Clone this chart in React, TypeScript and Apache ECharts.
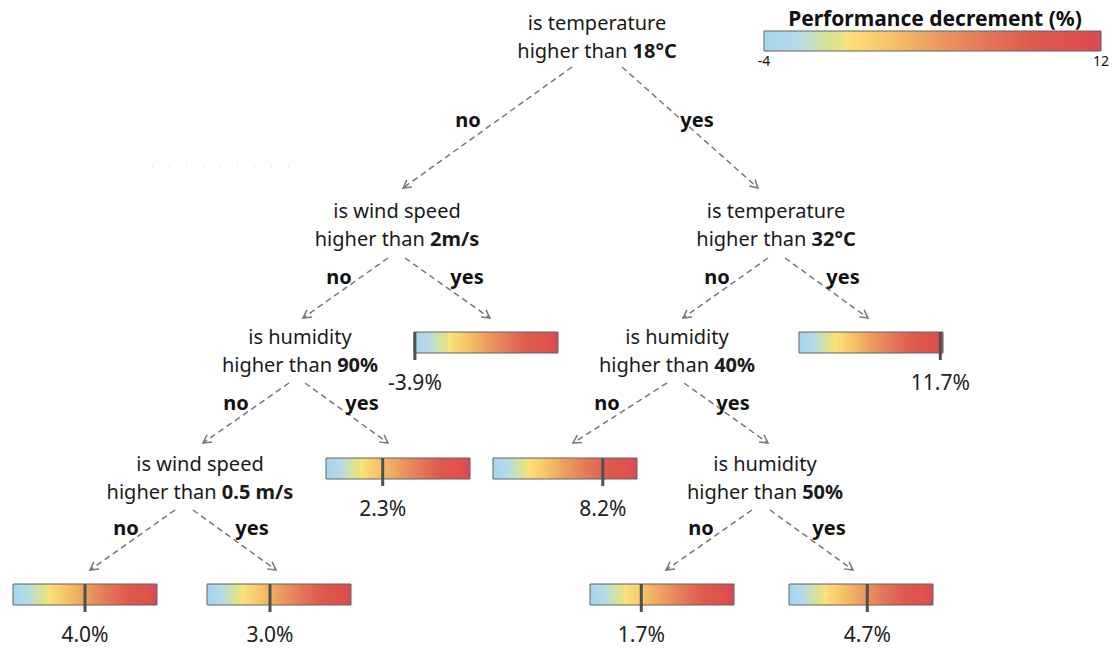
import React, { useEffect, useRef } from "react";
import * as echarts from "echarts";

// ---------- data ----------
const scaleMin = -4;
const scaleMax = 12;
const legendTitle = "Performance decrement (%)";
const legendTicks = [-4, 12];

const nodeQuestions = [
  "is temperature",
  "is wind speed",
  "is temperature",
  "is humidity",
  "is humidity",
  "is wind speed",
  "is humidity",
];
const nodeThresholds = ["18°C", "2m/s", "32°C", "90%", "40%", "0.5 m/s", "50%"];
const edgeLabels = ["no", "yes", "no", "yes", "no", "yes", "no", "yes", "no", "yes", "no", "yes", "no", "yes"];
const leafValues = [-3.9, 2.3, 4.0, 3.0, 11.7, 8.2, 1.7, 4.7];

// ---------- layout (positions only) ----------
const FONT = "'Noto Sans', sans-serif";
const nodePos = [
  [597, 22],
  [397, 210],
  [776, 210],
  [300, 336],
  [677, 336],
  [200, 463],
  [765, 463],
];
// [x1, y1, x2, y2, labelX, labelY]
const edgePos = [
  [572, 67, 403, 188, 468, 119],
  [622, 67, 758, 188, 697, 119],
  [388, 258, 303, 318, 339, 276],
  [405, 258, 490, 318, 467, 276],
  [289, 383, 203, 443, 236, 402],
  [305, 383, 388, 443, 362, 402],
  [175, 510, 90, 570, 126, 527],
  [193, 510, 276, 570, 252, 527],
  [768, 258, 683, 318, 717, 276],
  [785, 258, 868, 318, 843, 276],
  [667, 383, 573, 443, 607, 402],
  [684, 383, 768, 443, 733, 402],
  [752, 510, 666, 570, 701, 527],
  [770, 510, 853, 570, 829, 527],
];
const leafPos = [
  [414, 332],
  [326, 458],
  [13, 584],
  [207, 584],
  [799, 332],
  [493, 458],
  [590, 584],
  [789, 584],
];
const BAR_W = 144;
const BAR_H = 21;
const legendBox = { left: 764, top: 31, width: 338, height: 20 };

const gradStops = [
  { offset: 0, color: "#a6d5ef" },
  { offset: 0.1, color: "#b4dbe8" },
  { offset: 0.2, color: "#dce38f" },
  { offset: 0.235, color: "#e7e286" },
  { offset: 0.24, color: "#fde27a" },
  { offset: 0.36, color: "#f7c66a" },
  { offset: 0.5, color: "#ec9f60" },
  { offset: 0.65, color: "#e5785a" },
  { offset: 0.8, color: "#dc5a4e" },
  { offset: 0.94, color: "#e0504a" },
  { offset: 1, color: "#d6485e" },
];
const makeGrad = () => new echarts.graphic.LinearGradient(0, 0, 1, 0, gradStops);

const NODE_FS = 20;

function buildGraphic() {
  const els: any[] = [];
  nodeQuestions.forEach((q, i) => {
    const [x, y] = nodePos[i];
    els.push({
      type: "text",
      x,
      y,
      style: {
        text: q,
        fontSize: NODE_FS,
        fontFamily: FONT,
        fill: "#1a1a1a",
        align: "center",
        textAlign: "center",
        verticalAlign: "middle",
        textVerticalAlign: "middle",
      },
    });
    els.push({
      type: "text",
      x,
      y: y + 28,
      style: {
        text: "higher than {b|" + nodeThresholds[i] + "}",
        fontSize: NODE_FS,
        fontFamily: FONT,
        fill: "#1a1a1a",
        align: "center",
        textAlign: "center",
        verticalAlign: "middle",
        textVerticalAlign: "middle",
        rich: {
          b: { fontSize: NODE_FS, fontFamily: FONT, fontWeight: "bold", fill: "#1a1a1a" },
        },
      },
    });
  });
  edgePos.forEach((e, i) => {
    const [x1, y1, x2, y2, lx, ly] = e;
    els.push({
      type: "line",
      shape: { x1, y1, x2, y2 },
      style: { stroke: "#777", lineWidth: 1.5, lineDash: [6, 4] },
    });
    const ang = Math.atan2(y2 - y1, x2 - x1);
    const L = 9;
    const a1 = ang + Math.PI - 0.5;
    const a2 = ang + Math.PI + 0.5;
    els.push({
      type: "polyline",
      shape: {
        points: [
          [x2 + L * Math.cos(a1), y2 + L * Math.sin(a1)],
          [x2, y2],
          [x2 + L * Math.cos(a2), y2 + L * Math.sin(a2)],
        ],
      },
      style: { stroke: "#777", lineWidth: 1.5, fill: null },
    });
    els.push({
      type: "text",
      x: lx,
      y: ly,
      style: {
        text: edgeLabels[i],
        fontSize: NODE_FS,
        fontWeight: "bold",
        fontFamily: FONT,
        fill: "#111",
        align: "center",
        textAlign: "center",
        verticalAlign: "middle",
        textVerticalAlign: "middle",
      },
    });
  });
  // legend title
  els.push({
    type: "text",
    x: 935,
    y: 18,
    style: {
      text: legendTitle,
      fontSize: 21,
      fontWeight: "bold",
      fontFamily: FONT,
      fill: "#111",
      align: "center",
      textAlign: "center",
      verticalAlign: "middle",
      textVerticalAlign: "middle",
    },
  });
  // faint dotted artifact
  els.push({
    type: "line",
    shape: { x1: 152, y1: 166, x2: 295, y2: 166 },
    style: { stroke: "#c8c8c8", lineWidth: 1, lineDash: [1, 16] },
  });
  return els;
}

export default function App() {
  const ref = useRef<HTMLDivElement>(null);
  useEffect(() => {
    if (!ref.current) return;
    const chart = echarts.init(ref.current, null, { renderer: "svg" });

    const grids: any[] = [];
    const xAxes: any[] = [];
    const yAxes: any[] = [];
    const series: any[] = [];

    leafValues.forEach((v, i) => {
      const [l, t] = leafPos[i];
      grids.push({ left: l, top: t, width: BAR_W, height: BAR_H, containLabel: false });
      xAxes.push({ type: "value", gridIndex: i, min: scaleMin, max: scaleMax, show: false });
      yAxes.push({ type: "value", gridIndex: i, min: 0, max: 1, show: false });
      series.push({
        type: "custom",
        xAxisIndex: i,
        yAxisIndex: i,
        data: [[v, 0.5]],
        renderItem: (params: any, api: any) => {
          const cs = params.coordSys;
          const val = api.value(0);
          const x0 = api.coord([scaleMin, 0.5])[0];
          const x1 = api.coord([scaleMax, 0.5])[0];
          const mx = api.coord([val, 0.5])[0];
          return {
            type: "group",
            children: [
              {
                type: "rect",
                shape: { x: x0, y: cs.y, width: x1 - x0, height: cs.height },
                style: { fill: makeGrad(), stroke: "#5f6460", lineWidth: 1 },
              },
              {
                type: "line",
                shape: { x1: mx, y1: cs.y, x2: mx, y2: cs.y + cs.height + 7 },
                style: { stroke: "#4d524e", lineWidth: 3 },
              },
              {
                type: "text",
                x: mx,
                y: cs.y + cs.height + 29,
                style: {
                  text: val.toFixed(1) + "%",
                  fontSize: 21,
                  fontFamily: FONT,
                  fill: "#222",
                  align: "center",
                  verticalAlign: "middle",
                },
              },
            ],
          };
        },
      });
    });

    const li = leafValues.length;
    grids.push({ ...legendBox });
    xAxes.push({
      type: "value",
      gridIndex: li,
      min: scaleMin,
      max: scaleMax,
      axisLine: { show: false },
      axisTick: { show: false },
      splitLine: { show: false },
      axisLabel: {
        customValues: legendTicks,
        fontSize: 14,
        fontFamily: FONT,
        color: "#111",
        margin: 2,
      },
    });
    yAxes.push({ type: "value", gridIndex: li, min: 0, max: 1, show: false });
    series.push({
      type: "custom",
      xAxisIndex: li,
      yAxisIndex: li,
      data: [[scaleMin, 0.5]],
      renderItem: (params: any, api: any) => {
        const cs = params.coordSys;
        const x0 = api.coord([scaleMin, 0.5])[0];
        const x1 = api.coord([scaleMax, 0.5])[0];
        return {
          type: "rect",
          shape: { x: x0, y: cs.y, width: x1 - x0, height: cs.height },
          style: { fill: makeGrad(), stroke: "#5f6460", lineWidth: 1 },
        };
      },
    });

    chart.setOption({
      animation: false,
      backgroundColor: "#ffffff",
      grid: grids,
      xAxis: xAxes,
      yAxis: yAxes,
      series,
      graphic: buildGraphic(),
    });
    return () => chart.dispose();
  }, []);
  return (
    <div
      ref={ref}
      style={{ position: "fixed", left: 0, top: 0, width: 1112, height: 648 }}
    />
  );
}
